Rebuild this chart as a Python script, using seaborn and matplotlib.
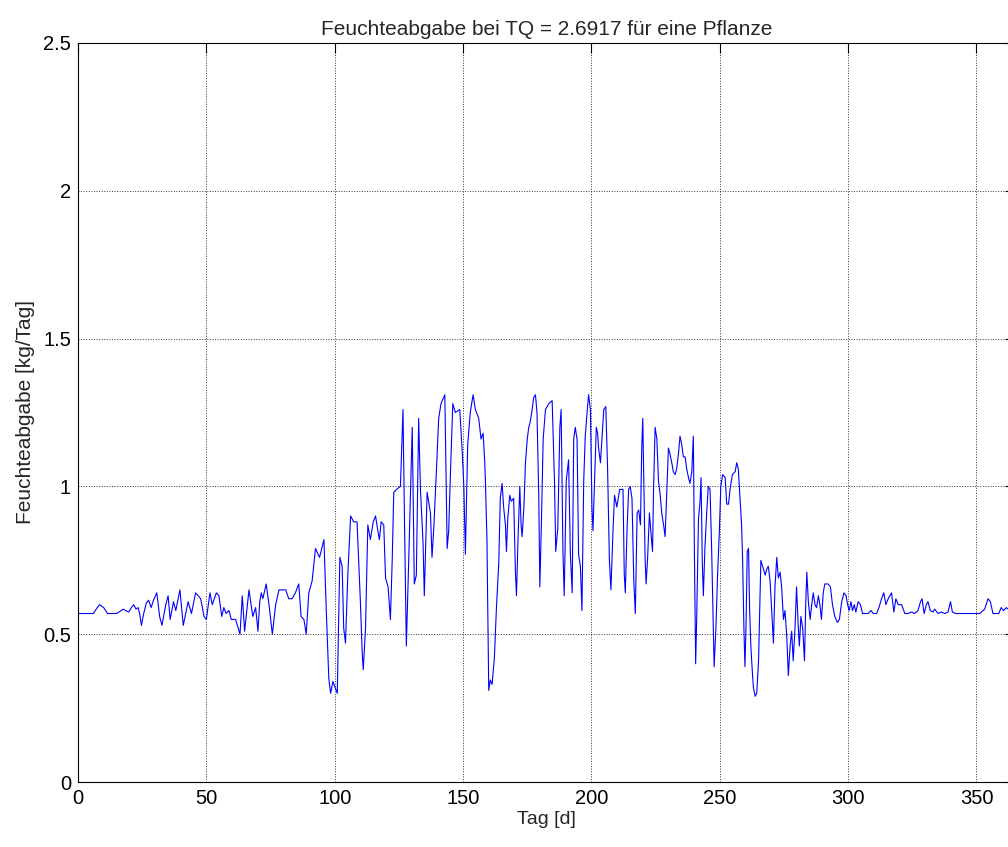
import numpy as np
import pandas as pd
import matplotlib
matplotlib.use('Agg')
import matplotlib.pyplot as plt
import seaborn as sns

title_s = 'Feuchteabgabe bei TQ = 2.6917 für eine Pflanze'
xlabel_s = 'Tag [d]'
ylabel_s = 'Feuchteabgabe [kg/Tag]'

tag = [
    0, 3, 6, 7.5, 8.4, 10, 11.5, 15, 16, 17.6, 18.5, 19.8, 20.8, 21.7, 22.6, 23.4, 24, 24.7, 25.6, 26.6,
    27.5, 28.5, 29.4, 30.7, 31.8, 32.7, 34.2, 35.1, 35.9, 37.2, 38.1, 39.7, 41.0, 42.9, 44.2, 45.8, 47.8, 49.1, 50.0, 51.4,
    52.3, 53.9, 54.9, 56.0, 56.8, 57.7, 58.8, 59.7, 61.4, 62.4, 63.1, 64.0, 64.9, 66.6, 68.1, 69.2, 70.1, 70.8, 71.4, 72.0,
    73.3, 74.4, 75.7, 77.0, 78.3, 80.9, 82.1, 83.4, 84.7, 86.0, 86.9, 88.0, 88.9, 89.9, 91.2, 92.5, 94.1, 95.8, 96.8, 97.7,
    98.4, 99.3, 101.0, 102.0, 102.9, 103.5, 104.2, 105.1, 106.2, 107.4, 108.7, 110.0, 110.7, 111.1, 112.0, 112.9, 113.9, 115.0, 115.9, 116.8,
    117.4, 118.1, 119.1, 119.8, 120.8, 121.7, 122.4, 123.0, 124.1, 125.6, 126.6, 127.2, 127.9, 128.8, 130.2, 131.0, 131.8, 132.7, 133.4, 134.4,
    134.9, 136.0, 137.3, 137.9, 138.6, 139.6, 140.5, 141.4, 142.9, 143.8, 144.4, 145.1, 146.0, 147.0, 148.7, 149.6, 150.3, 150.9, 151.8, 152.8,
    153.9, 154.8, 156.1, 157.0, 157.8, 158.4, 158.7, 159.3, 160.0, 160.6, 161.3, 162.2, 163.0, 163.9, 164.5, 165.2, 165.8, 166.5, 166.9, 167.4,
    168.2, 168.8, 169.7, 170.4, 170.8, 171.4, 172.1, 172.6, 173.0, 173.7, 174.3, 175.0, 175.6, 176.2, 176.9, 177.5, 178.2, 178.8, 179.5, 179.9,
    180.5, 181.2, 182.1, 183.4, 184.7, 185.6, 186.1, 186.9, 187.7, 188.2, 188.9, 189.4, 190.2, 191.1, 191.8, 192.5, 193.1, 193.7, 194.4, 195.0,
    195.7, 196.3, 197.0, 197.6, 198.3, 198.9, 199.6, 200.2, 200.6, 201.3, 201.9, 202.4, 202.8, 203.5, 204.1, 204.8, 205.6, 206.3, 207.0, 207.6,
    208.4, 209.0, 209.9, 211.0, 212.3, 212.8, 213.2, 213.9, 214.5, 215.1, 215.8, 216.5, 217.1, 217.8, 218.4, 219.1, 219.6, 220.0, 220.5, 220.9,
    221.3, 221.9, 222.6, 223.3, 223.8, 224.2, 224.8, 225.5, 226.1, 226.8, 227.4, 228.1, 228.7, 229.3, 230.0, 230.6, 231.3, 231.9, 232.6, 233.2,
    233.9, 234.5, 235.2, 235.8, 236.5, 237.1, 237.8, 238.4, 239.1, 239.7, 240.1, 240.6, 241.0, 241.7, 242.3, 242.7, 243.2, 243.6, 244.2, 244.9,
    245.5, 246.2, 246.8, 247.5, 247.8, 248.5, 249.1, 249.8, 250.4, 251.1, 252.1, 252.7, 253.4, 254.0, 254.9, 256.0, 256.6, 257.2, 257.9, 258.5,
    258.9, 259.4, 259.8, 260.2, 260.7, 261.2, 261.6, 262.1, 262.7, 263.1, 263.8, 264.4, 265.1, 265.7, 266.0, 267.0, 267.7, 268.3, 268.9, 269.6,
    270.2, 270.9, 271.5, 272.2, 272.8, 273.5, 274.1, 274.8, 275.4, 276.1, 276.7, 277.4, 278.0, 278.6, 279.3, 279.9, 280.6, 281.0, 281.6, 282.3,
    283.0, 283.5, 283.9, 284.5, 285.2, 285.8, 286.4, 287.1, 287.7, 288.4, 289.0, 289.6, 290.3, 290.9, 292.2, 293.1, 293.9, 294.8, 295.8, 296.6,
    297.5, 298.4, 299.2, 299.8, 300.4, 301.1, 301.7, 302.4, 303.0, 303.9, 304.8, 305.6, 306.5, 307.8, 308.9, 309.8, 311.1, 312.0, 313.0, 313.9,
    314.7, 315.6, 316.9, 317.8, 318.6, 319.5, 320.8, 322.1, 323.4, 324.6, 325.9, 327.2, 328.2, 328.8, 329.6, 330.5, 331.1, 332.0, 333.1, 333.7,
    335.0, 336.3, 337.6, 338.9, 339.6, 339.9, 340.6, 341.9, 343.4, 345.4, 347.3, 349.3, 351.2, 353.2, 354.5, 355.4, 356.4, 357.7, 358.7, 359.6,
    360.5, 361.6, 363, 365,
]
feuchte = [
    0.57, 0.57, 0.57, 0.59, 0.60, 0.59, 0.57, 0.57, 0.575, 0.585, 0.58, 0.575, 0.59, 0.60, 0.585, 0.59, 0.57, 0.53, 0.57, 0.605,
    0.615, 0.59, 0.615, 0.64, 0.56, 0.53, 0.60, 0.63, 0.55, 0.61, 0.58, 0.65, 0.53, 0.61, 0.57, 0.64, 0.62, 0.56, 0.55, 0.64,
    0.60, 0.64, 0.63, 0.56, 0.59, 0.57, 0.58, 0.55, 0.55, 0.52, 0.50, 0.63, 0.51, 0.65, 0.56, 0.59, 0.51, 0.61, 0.64, 0.62,
    0.67, 0.60, 0.50, 0.60, 0.65, 0.65, 0.62, 0.62, 0.64, 0.67, 0.56, 0.55, 0.50, 0.64, 0.68, 0.79, 0.76, 0.82, 0.56, 0.35,
    0.30, 0.34, 0.30, 0.76, 0.73, 0.52, 0.47, 0.70, 0.90, 0.88, 0.88, 0.61, 0.44, 0.38, 0.52, 0.87, 0.82, 0.88, 0.90, 0.85,
    0.82, 0.88, 0.87, 0.69, 0.66, 0.55, 0.75, 0.98, 0.99, 1.00, 1.26, 0.87, 0.46, 0.74, 1.20, 0.67, 0.70, 1.23, 0.99, 0.81,
    0.63, 0.98, 0.91, 0.76, 0.86, 1.05, 1.23, 1.28, 1.31, 0.79, 0.85, 1.05, 1.28, 1.25, 1.26, 1.13, 1.00, 0.77, 1.14, 1.25,
    1.31, 1.26, 1.23, 1.16, 1.18, 1.09, 1.02, 0.82, 0.31, 0.345, 0.33, 0.42, 0.59, 0.74, 0.96, 1.01, 0.93, 0.87, 0.78, 0.89,
    0.97, 0.95, 0.96, 0.71, 0.63, 0.82, 1.00, 0.87, 0.83, 0.93, 1.08, 1.16, 1.20, 1.22, 1.26, 1.30, 1.31, 1.25, 0.96, 0.66,
    0.87, 1.16, 1.26, 1.28, 1.29, 1.02, 0.78, 0.86, 1.20, 1.26, 0.78, 0.63, 1.02, 1.09, 0.77, 0.64, 1.16, 1.20, 1.16, 0.77,
    0.73, 0.58, 1.02, 1.17, 1.25, 1.31, 1.26, 0.93, 0.85, 1.04, 1.20, 1.18, 1.13, 1.08, 1.16, 1.26, 1.27, 1.06, 0.75, 0.65,
    0.85, 0.97, 0.93, 0.99, 0.99, 0.70, 0.64, 0.86, 0.99, 1.00, 0.96, 0.68, 0.57, 0.91, 0.92, 0.87, 1.13, 1.23, 0.96, 0.76,
    0.67, 0.76, 0.91, 0.83, 0.78, 0.99, 1.20, 1.16, 1.02, 0.97, 0.91, 0.87, 0.83, 0.97, 1.13, 1.11, 1.08, 1.05, 1.04, 1.06,
    1.11, 1.17, 1.14, 1.10, 1.10, 1.06, 1.03, 1.01, 1.05, 1.17, 0.79, 0.40, 0.55, 0.89, 0.95, 1.03, 0.74, 0.63, 0.79, 0.91,
    1.00, 0.99, 0.80, 0.52, 0.39, 0.52, 0.69, 0.84, 1.00, 1.04, 1.03, 0.94, 0.94, 0.99, 1.04, 1.05, 1.08, 1.06, 0.96, 0.87,
    0.75, 0.52, 0.39, 0.52, 0.78, 0.79, 0.59, 0.46, 0.37, 0.32, 0.29, 0.30, 0.41, 0.64, 0.75, 0.72, 0.70, 0.72, 0.73, 0.68,
    0.58, 0.47, 0.66, 0.76, 0.69, 0.71, 0.66, 0.55, 0.58, 0.49, 0.36, 0.46, 0.51, 0.41, 0.52, 0.66, 0.52, 0.46, 0.56, 0.52,
    0.41, 0.61, 0.71, 0.61, 0.55, 0.60, 0.64, 0.60, 0.59, 0.63, 0.60, 0.55, 0.64, 0.67, 0.67, 0.66, 0.60, 0.56, 0.54, 0.55,
    0.61, 0.64, 0.63, 0.60, 0.58, 0.61, 0.58, 0.60, 0.575, 0.61, 0.60, 0.57, 0.57, 0.57, 0.58, 0.57, 0.57, 0.59, 0.62, 0.64,
    0.60, 0.62, 0.64, 0.575, 0.62, 0.60, 0.60, 0.57, 0.57, 0.575, 0.57, 0.58, 0.61, 0.62, 0.57, 0.60, 0.61, 0.58, 0.575, 0.585,
    0.57, 0.575, 0.57, 0.575, 0.60, 0.61, 0.575, 0.57, 0.57, 0.57, 0.57, 0.57, 0.57, 0.585, 0.62, 0.61, 0.57, 0.57, 0.57, 0.59,
    0.58, 0.59, 0.58, 0.58,
]

xticks = [0, 50, 100, 150, 200, 250, 300, 350]
yticks = [0, 0.5, 1, 1.5, 2, 2.5]


def start():
    df = pd.DataFrame({'Tag': tag, 'Feuchte': feuchte})

    sns.set_style('white')
    plt.rcParams['font.family'] = ['Liberation Sans', 'DejaVu Sans']

    fig = plt.figure(figsize=(10.08, 8.47), dpi=100)
    # Achse geht rechts ueber den Bildrand hinaus (wie im Original abgeschnitten)
    ax = fig.add_axes([78 / 1008, 65 / 847, 937 / 1008, 739 / 847])

    sns.lineplot(data=df, x='Tag', y='Feuchte', color='#0000ff', linewidth=0.8,
                 estimator=None, sort=False, ax=ax)

    ax.set_xlim(0, 365)
    ax.set_ylim(0, 2.5)
    ax.set_xticks(xticks)
    ax.set_yticks(yticks)
    ax.set_yticklabels(['0', '0.5', '1', '1.5', '2', '2.5'])
    ax.grid(True, linestyle=':', color='black', linewidth=0.7, alpha=0.8)
    ax.tick_params(direction='in', top=True, right=True, length=7, width=0.8,
                   labelsize=14.5, colors='black', pad=5)
    for sp in ax.spines.values():
        sp.set_color('black')
        sp.set_linewidth(0.8)

    ax.set_xlabel(xlabel_s, fontsize=14, labelpad=2)
    ax.set_ylabel(ylabel_s, fontsize=15, labelpad=6)
    ax.set_title(title_s, fontsize=15, pad=6)

    fig.savefig('out.png', dpi=100)


start()
